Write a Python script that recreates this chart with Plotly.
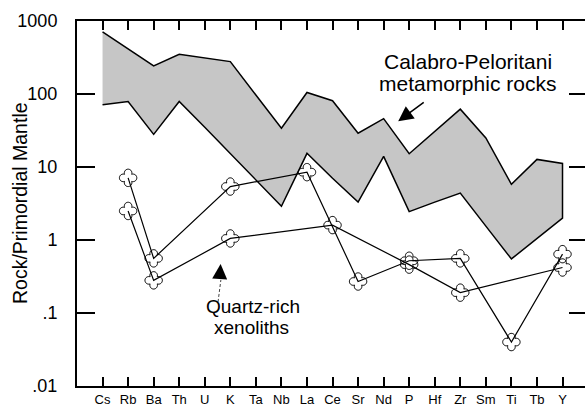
import numpy as np
import plotly.graph_objects as go

# Element order of the spider diagram
elements = ["Cs", "Rb", "Ba", "Th", "U", "K", "Ta", "Nb", "La", "Ce",
            "Sr", "Nd", "P", "Hf", "Zr", "Sm", "Ti", "Tb", "Y"]

# Calabro-Peloritani metamorphic rocks: envelope (rock / primordial mantle)
band_upper = [710, 415, 243, 350, 312, 278, 97, 34, 105, 81,
              29, 46, 15.2, 31, 62, 25, 5.8, 12.7, 11.2]
band_lower = [71, 79, 28, 79, 35, 15.2, 6.7, 2.9, 15.4, 7.0,
              3.3, 14, 2.45, 3.3, 4.4, 1.55, 0.55, 1.05, 2.0]

# Quartz-rich xenoliths
xen1_elements = ["Rb", "Ba", "K", "La", "Sr", "P", "Zr", "Ti", "Y"]
xen1_values = [7.1, 0.56, 5.4, 8.5, 0.27, 0.52, 0.56, 0.040, 0.64]
xen2_elements = ["Rb", "Ba", "K", "Ce", "P", "Zr", "Y"]
xen2_values = [2.5, 0.28, 1.05, 1.6, 0.46, 0.19, 0.42]

# Log-axis ticks
y_tickvals = [0.01, 0.1, 1, 10, 100, 1000]
y_ticktext = [".01", ".1", "1", "10", "100", "1000"]

FONT = "Arial, Liberation Sans, sans-serif"
pos = {e: i for i, e in enumerate(elements)}

# Plot-area geometry (pixels) used for paper-anchored text
L, R, T, B, W, H = 77, 0, 21, 22, 585, 408
PW, PH = W - L - R, H - T - B


def px_to_paper(px, py):
    return (px - L) / PW, (H - B - py) / PH


def quatrefoil(d=4.9, r=3.8, n=18):
    """Outline of a four-lobed marker, in pixels around its anchor."""
    t = (d + np.sqrt(2 * r * r - d * d)) / 2
    phi0 = np.arctan2(t, t - d)
    pts = []
    for a in np.radians([0, 90, 180, 270]):
        cx, cy = d * np.cos(a), d * np.sin(a)
        for p in np.linspace(-phi0, phi0, n):
            pts.append((cx + r * np.cos(a + p), cy + r * np.sin(a + p)))
    return "M" + " L".join(f"{x:.2f},{y:.2f}" for x, y in pts) + " Z"


glyph = quatrefoil()

fig = go.Figure()

# Envelope polygon: upper edge left to right, lower edge right to left
band_x = list(range(len(elements))) + list(range(len(elements)))[::-1]
band_y = band_upper + band_lower[::-1]
fig.add_trace(go.Scatter(
    x=band_x, y=band_y, mode="lines", fill="toself",
    line=dict(color="black", width=1.5),
    fillcolor="#c6c6c6",
    hoverinfo="skip", name="Calabro-Peloritani"))

shapes = []
for els, vals in [(xen1_elements, xen1_values), (xen2_elements, xen2_values)]:
    xs = [pos[e] for e in els]
    fig.add_trace(go.Scatter(
        x=xs, y=vals, mode="lines",
        line=dict(color="black", width=1.2),
        text=els, hovertemplate="%{text}: %{y}<extra></extra>"))
    for x, v in zip(xs, vals):
        shapes.append(dict(type="path", xref="x", yref="y",
                           xsizemode="pixel", ysizemode="pixel",
                           xanchor=x, yanchor=v, path=glyph,
                           line=dict(color="black", width=1),
                           fillcolor="rgba(0,0,0,0)", layer="above"))

# Right-hand tick marks (no frame line on that side)
fig.add_trace(go.Scatter(x=list(range(len(elements))), y=band_upper,
                         yaxis="y2", mode="lines", line=dict(width=0),
                         opacity=0, hoverinfo="skip", showlegend=False))

# Dashed shaft of the xenolith pointer
shapes.append(dict(type="line", xref="x", yref="y",
                   x0=4.52, y0=0.142, x1=4.63, y1=0.284,
                   line=dict(color="#444444", width=1, dash="3px,2px")))


def label(text, px, py, size, **kw):
    x, y = px_to_paper(px, py)
    return dict(text=text, xref="paper", yref="paper", x=x, y=y,
                xanchor="center", yanchor="middle", showarrow=False,
                font=dict(size=size), **kw)


annotations = [
    label("Calabro-Peloritani", 468, 61, 21),
    label("metamorphic rocks", 467, 84, 21),
    dict(text="", xref="x", yref="y", x=11.57, y=np.log10(42.3),
         ax=27, ay=-20, showarrow=True, arrowhead=2, arrowsize=2,
         arrowwidth=1.5, arrowcolor="black"),
    label("Quartz-rich", 253, 306, 19),
    label("xenoliths", 251, 327, 19),
    dict(text="", xref="x", yref="y", x=4.62, y=-0.329,
         ax=-1, ay=16, showarrow=True, arrowhead=2, arrowsize=2,
         arrowwidth=1.5, arrowcolor="black"),
    label("Rock/Primordial Mantle", 20, 203, 19.5, textangle=-90),
]

fig.update_layout(
    width=W, height=H,
    margin=dict(l=L, r=R, t=T, b=B),
    paper_bgcolor="white", plot_bgcolor="white",
    showlegend=False,
    font=dict(family=FONT, color="black"),
    shapes=shapes, annotations=annotations,
    xaxis=dict(range=[-1.0, 18.88], tickmode="array",
               tickvals=list(range(len(elements))), ticktext=elements,
               ticks="inside", ticklen=9, tickwidth=1.5, tickcolor="black",
               showline=True, linewidth=2, linecolor="black",
               mirror="ticks", showgrid=False, zeroline=False,
               tickfont=dict(size=13)),
    yaxis=dict(type="log", range=[-2, 3], tickmode="array",
               tickvals=y_tickvals, ticktext=y_ticktext,
               ticks="inside", ticklen=18, tickwidth=2, tickcolor="black",
               showline=True, linewidth=2, linecolor="black",
               showgrid=False, zeroline=False, ticklabelstandoff=14,
               tickfont=dict(size=18)),
    yaxis2=dict(type="log", range=[-2, 3], overlaying="y", side="right",
                tickmode="array", tickvals=y_tickvals, ticks="inside",
                ticklen=16, tickwidth=2, tickcolor="black",
                showticklabels=False, showline=False, showgrid=False,
                zeroline=False),
)

fig.write_html("out.html")
